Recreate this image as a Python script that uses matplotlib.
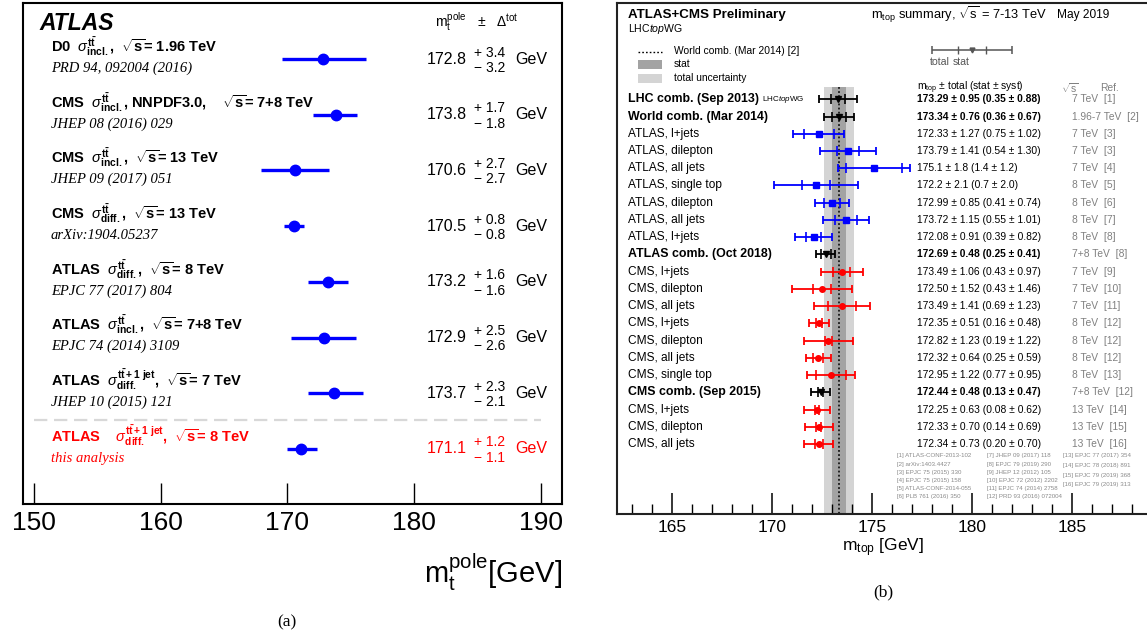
import matplotlib
matplotlib.use("Agg")
import matplotlib.pyplot as plt
from matplotlib.ticker import MultipleLocator, FixedLocator

plt.rcParams['font.family'] = ['Liberation Sans', 'DejaVu Sans']
plt.rcParams['mathtext.fontset'] = 'custom'
plt.rcParams['mathtext.rm'] = 'Liberation Sans'
plt.rcParams['mathtext.it'] = 'Liberation Sans:italic'
plt.rcParams['mathtext.bf'] = 'Liberation Sans:bold'
plt.rcParams['mathtext.sf'] = 'Liberation Sans'

# ------------------------------------------------------------------ data (a)
a_labels = [
    r"D0  $\sigma^{\mathbf{t\bar{t}}}_{\mathbf{incl.}}$,  $\sqrt{\mathbf{s}}$= 1.96 TeV",
    r"CMS  $\sigma^{\mathbf{t\bar{t}}}_{\mathbf{incl.}}$, NNPDF3.0,    $\sqrt{\mathbf{s}}$= 7+8 TeV",
    r"CMS  $\sigma^{\mathbf{t\bar{t}}}_{\mathbf{incl.}}$,  $\sqrt{\mathbf{s}}$= 13 TeV",
    r"CMS  $\sigma^{\mathbf{t\bar{t}}}_{\mathbf{diff.}}$,  $\sqrt{\mathbf{s}}$= 13 TeV",
    r"ATLAS  $\sigma^{\mathbf{t\bar{t}}}_{\mathbf{diff.}}$,  $\sqrt{\mathbf{s}}$= 8 TeV",
    r"ATLAS  $\sigma^{\mathbf{t\bar{t}}}_{\mathbf{incl.}}$,  $\sqrt{\mathbf{s}}$= 7+8 TeV",
    r"ATLAS  $\sigma^{\mathbf{t\bar{t}+1\ jet}}_{\mathbf{diff.}}$,  $\sqrt{\mathbf{s}}$= 7 TeV",
    r"ATLAS    $\sigma^{\mathbf{t\bar{t}+1\ jet}}_{\mathbf{diff.}}$,  $\sqrt{\mathbf{s}}$= 8 TeV",
]
a_cites = ["PRD 94, 092004 (2016)", "JHEP 08 (2016) 029", "JHEP 09 (2017) 051",
           "arXiv:1904.05237", "EPJC 77 (2017) 804", "EPJC 74 (2014) 3109",
           "JHEP 10 (2015) 121", "this analysis"]
a_values = [172.8, 173.8, 170.6, 170.5, 173.2, 172.9, 173.7, 171.1]
a_err_up = [3.4, 1.7, 2.7, 0.8, 1.6, 2.5, 2.3, 1.2]
a_err_dn = [3.2, 1.8, 2.7, 0.8, 1.6, 2.6, 2.1, 1.1]
a_xticks = [150, 160, 170, 180, 190]

# ------------------------------------------------------------------ data (b)
b_labels = ["LHC comb. (Sep 2013)", "World comb. (Mar 2014)",
            "ATLAS, l+jets", "ATLAS, dilepton", "ATLAS, all jets", "ATLAS, single top",
            "ATLAS, dilepton", "ATLAS, all jets", "ATLAS, l+jets",
            "ATLAS comb. (Oct 2018)",
            "CMS, l+jets", "CMS, dilepton", "CMS, all jets", "CMS, l+jets",
            "CMS, dilepton", "CMS, all jets", "CMS, single top",
            "CMS comb. (Sep 2015)",
            "CMS, l+jets", "CMS, dilepton", "CMS, all jets"]
b_mass = [173.29, 173.34, 172.33, 173.79, 175.1, 172.2, 172.99, 173.72, 172.08, 172.69,
          173.49, 172.50, 173.49, 172.35, 172.82, 172.32, 172.95, 172.44, 172.25, 172.33, 172.34]
b_total = [0.95, 0.76, 1.27, 1.41, 1.8, 2.1, 0.85, 1.15, 0.91, 0.48,
           1.06, 1.52, 1.41, 0.51, 1.23, 0.64, 1.22, 0.48, 0.63, 0.70, 0.73]
b_stat = [0.35, 0.36, 0.75, 0.54, 1.4, 0.7, 0.41, 0.55, 0.39, 0.25,
          0.43, 0.43, 0.69, 0.16, 0.19, 0.25, 0.77, 0.13, 0.08, 0.14, 0.20]
b_syst = [0.88, 0.67, 1.02, 1.30, 1.2, 2.0, 0.74, 1.01, 0.82, 0.41,
          0.97, 1.46, 1.23, 0.48, 1.22, 0.59, 0.95, 0.47, 0.62, 0.69, 0.70]
b_decimals = [2, 2, 2, 2, 1, 1, 2, 2, 2, 2, 2, 2, 2, 2, 2, 2, 2, 2, 2, 2, 2]
b_sqrts = ["7 TeV", "1.96-7 TeV", "7 TeV", "7 TeV", "7 TeV", "8 TeV", "8 TeV", "8 TeV",
           "8 TeV", "7+8 TeV", "7 TeV", "7 TeV", "7 TeV", "8 TeV", "8 TeV", "8 TeV",
           "8 TeV", "7+8 TeV", "13 TeV", "13 TeV", "13 TeV"]
b_refs = [1, 2, 3, 3, 4, 5, 6, 7, 8, 8, 9, 10, 11, 12, 12, 12, 13, 12, 14, 15, 16]
b_group = ["comb", "comb"] + ["ATLAS"] * 7 + ["comb"] + ["CMS"] * 7 + ["comb"] + ["CMS"] * 3
b_world_index = 1
b_xticks_major = [165, 170, 175, 180, 185]
b_example = (180.0, 2.0, 0.7)  # legend example: value, total, stat
b_references = [
    ["[1] ATLAS-CONF-2013-102", "[2] arXiv:1403.4427", "[3] EPJC 75 (2015) 330",
     "[4] EPJC 75 (2015) 158", "[5] ATLAS-CONF-2014-055", "[6] PLB 761 (2016) 350"],
    ["[7] JHEP 09 (2017) 118", "[8] EPJC 79 (2019) 290", "[9] JHEP 12 (2012) 105",
     "[10] EPJC 72 (2012) 2202", "[11] EPJC 74 (2014) 2758", "[12] PRD 93 (2016) 072004"],
    ["[13] EPJC 77 (2017) 354", "[14] EPJC 78 (2018) 891", "[15] EPJC 79 (2019) 368",
     "[16] EPJC 79 (2019) 313"],
]

# ------------------------------------------------------------------ figure
W, H = 1147, 639
fig = plt.figure(figsize=(W / 100, H / 100), dpi=100)
fig.patch.set_facecolor("white")

# ================================================================== panel (a)
aL, aR, aT, aB = 23, 562, 3, 504
axA = fig.add_axes([aL / W, 1 - aB / H, (aR - aL) / W, (aB - aT) / H])
A_X0, A_PPG = 34.0, 12.67       # pixel of 150 GeV, pixels per GeV
def ax_a(px):
    return 150 + (px - A_X0) / A_PPG
A_Y0, A_DY = 59.0, 55.7
def ay_a(py):
    return (py - A_Y0) / A_DY

axA.set_xlim(ax_a(aL), ax_a(aR))
axA.set_ylim(ay_a(aB), ay_a(aT))
axA.xaxis.set_major_locator(FixedLocator(a_xticks))
axA.set_xticklabels([str(t) for t in a_xticks])
axA.tick_params(axis='x', direction='in', length=15, width=1.0, labelsize=19, pad=5)
axA.set_yticks([])
for s in axA.spines.values():
    s.set_linewidth(1.5)

for i, (lab, cite, v, up, dn) in enumerate(zip(a_labels, a_cites, a_values, a_err_up, a_err_dn)):
    last = (i == len(a_labels) - 1)
    tc = 'red' if last else 'black'
    axA.errorbar(v, i, xerr=[[dn], [up]], fmt='o', color='blue', ms=7.5,
                 elinewidth=2.4, capsize=0, zorder=3)
    axA.text(ax_a(51), i - 0.226, lab, fontsize=10.5, fontweight='bold', color=tc,
             va='center', ha='left')
    axA.text(ax_a(51), i + 0.165, cite, fontsize=10.5, family='Liberation Serif',
             style='italic', color=tc, va='center', ha='left')
    axA.text(ax_a(427), i, f"{v:.1f}", fontsize=11.5, color=tc, va='center', ha='left')
    axA.text(ax_a(474), i - 0.115, f"+ {up:.1f}", fontsize=10, color=tc, va='center', ha='left')
    axA.text(ax_a(474), i + 0.16, f"\u2212 {dn:.1f}", fontsize=10, color=tc, va='center', ha='left')
    axA.text(ax_a(515), i, "GeV", fontsize=11.5, color=tc, va='center', ha='left')

axA.axhline(ay_a(420), xmin=(34 - aL) / (aR - aL), xmax=(541 - aL) / (aR - aL),
            color='#d8d8d8', lw=1.6, ls=(0, (6, 3)))
axA.text(ax_a(39), ay_a(24), "ATLAS", fontsize=16.5, fontweight='bold', style='italic',
         va='center', ha='left')
axA.text(ax_a(435), ay_a(22), r"$\mathrm{m_{t}^{pole}}$   ±   $\Delta^{\mathrm{tot}}$",
         fontsize=10, va='center', ha='left')

fig.text(aR / W, 1 - 572 / H, r"$\mathrm{m_{t}^{pole}}$[GeV]", fontsize=21,
         ha='right', va='center')
fig.text(287 / W, 1 - 622 / H, "(a)", fontsize=12.5, family='Liberation Serif',
         ha='center', va='center')

# ================================================================== panel (b)
bL, bT, bB = 617, 3, 514
bR = W + 3
axB = fig.add_axes([bL / W, 1 - bB / H, (bR - bL) / W, (bB - bT) / H])
B_X0, B_PPG = 162.25, 20.0
def ax_b(px):
    return B_X0 + (px - bL) / B_PPG
B_Y0, B_DY = 99.3, 17.24
def ay_b(py):
    return (py - B_Y0) / B_DY

axB.set_xlim(ax_b(bL), ax_b(bR))
axB.set_ylim(ay_b(bB), ay_b(bT))
axB.xaxis.set_major_locator(FixedLocator(b_xticks_major))
axB.xaxis.set_minor_locator(MultipleLocator(1))
axB.set_xticklabels([str(t) for t in b_xticks_major])
axB.tick_params(axis='x', which='major', direction='in', length=15, width=1.1,
                labelsize=12.5, pad=4)
axB.tick_params(axis='x', which='minor', direction='in', length=7.5, width=1.0)
axB.set_yticks([])
axB.set_xlabel(r"$\mathrm{m_{top}}$ [GeV]", fontsize=12.5, labelpad=1)
for s in axB.spines.values():
    s.set_linewidth(1.5)
    s.set_color('#222222')
axB.spines['right'].set_visible(False)

# world combination bands
wm, wt, ws = b_mass[b_world_index], b_total[b_world_index], b_stat[b_world_index]
band_top = ay_b(87)
band_bot = ay_b(bB)
axB.fill_betweenx([band_top, band_bot], wm - wt, wm + wt, color='#d4d4d4', lw=0, zorder=1)
axB.fill_betweenx([band_top, band_bot], wm - ws, wm + ws, color='#a3a3a3', lw=0, zorder=1)
axB.plot([wm, wm], [band_top, band_bot], color='black', ls=(0, (1.2, 1.5)), lw=1.1, zorder=2)

colors = {"comb": "black", "ATLAS": "blue", "CMS": "red"}
markers = {"comb": "v", "ATLAS": "s", "CMS": "o"}
gray = '#808080'
for i in range(len(b_labels)):
    g = b_group[i]
    c = colors[g]
    bold = (g == "comb")
    fw = 'bold' if bold else 'normal'
    m, t, s, sy, d = b_mass[i], b_total[i], b_stat[i], b_syst[i], b_decimals[i]
    axB.errorbar(m, i, xerr=t, fmt=markers[g], color=c, ms=4, elinewidth=1.3,
                 capsize=3.2, capthick=1.3, zorder=4)
    axB.plot([m - s, m + s], [i, i], ls='none', marker='|', ms=6.5, mew=1.2, color=c, zorder=4)
    axB.text(ax_b(628), i, b_labels[i], fontsize=8.9 if bold else 8.6, fontweight=fw,
             va='center', ha='left')
    axB.text(ax_b(917), i, f"{m:.{d}f} ± {t:.{d}f} ({s:.{d}f} ± {sy:.{d}f})",
             fontsize=7.4, fontweight=fw, va='center', ha='left')
    axB.text(ax_b(1072), i, f"{b_sqrts[i]}  [{b_refs[i]}]", fontsize=7.4, color=gray,
             va='center', ha='left')

axB.text(ax_b(762), 0, r"LHC$\mathit{top}$WG", fontsize=5.8, va='center', ha='left')

# header texts
axB.text(ax_b(628), ay_b(15), "ATLAS+CMS Preliminary", fontsize=9.6, fontweight='bold',
         va='center', ha='left')
axB.text(ax_b(628), ay_b(29), r"LHC$\mathit{top}$WG", fontsize=7.6, va='center', ha='left')
axB.text(ax_b(871), ay_b(15), r"$\mathrm{m_{top}}$ summary, $\sqrt{\mathrm{s}}$ = 7-13 TeV",
         fontsize=9.3, va='center', ha='left')
axB.text(ax_b(1057), ay_b(15), "May 2019", fontsize=8.6, va='center', ha='left')

# legend
axB.plot([ax_b(638), ax_b(662)], [ay_b(52)] * 2, color='black', ls=(0, (1.2, 1.5)), lw=1.0)
axB.fill_between([ax_b(638), ax_b(662)], ay_b(59.5), ay_b(68.5), color='#a3a3a3', lw=0)
axB.fill_between([ax_b(638), ax_b(662)], ay_b(74), ay_b(83), color='#d4d4d4', lw=0)
axB.text(ax_b(674), ay_b(51), "World comb. (Mar 2014) [2]", fontsize=7.4, va='center', ha='left')
axB.text(ax_b(674), ay_b(64), "stat", fontsize=7.4, va='center', ha='left')
axB.text(ax_b(674), ay_b(78), "total uncertainty", fontsize=7.4, va='center', ha='left')

ev, et, es = b_example
ey = ay_b(50)
axB.errorbar(ev, ey, xerr=et, fmt='v', color='#555555', ms=3.5, elinewidth=1.1,
             capsize=3, capthick=1.1)
axB.plot([ev - es, ev + es], [ey, ey], ls='none', marker='|', ms=6, mew=1.0, color='#555555')
axB.text(ax_b(930), ay_b(62), "total", fontsize=7.6, color='#555555', va='center', ha='left')
axB.text(ax_b(953), ay_b(62), "stat", fontsize=7.6, color='#555555', va='center', ha='left')

axB.text(ax_b(917), ay_b(88), r"$\mathrm{m_{top}}$ ± total (stat ± syst)", fontsize=7.4,
         va='center', ha='left')
axB.text(ax_b(1061), ay_b(88), r"$\sqrt{\mathrm{s}}$", fontsize=7.4, color=gray,
         va='center', ha='left')
axB.text(ax_b(1100), ay_b(88), "Ref.", fontsize=7.4, color=gray, va='center', ha='left')

# reference list
ref_x = [897, 987, 1063]
ref_dy = [8.2, 8.2, 9.6]
for col, items in enumerate(b_references):
    for k, txt in enumerate(items):
        axB.text(ax_b(ref_x[col]), ay_b(456 + ref_dy[col] * k), txt, fontsize=4.4,
                 color='#8a8a8a', va='center', ha='left')

fig.text(883 / W, 1 - 592 / H, "(b)", fontsize=12.5, family='Liberation Serif',
         ha='center', va='center')

fig.savefig("out.png", dpi=100)
